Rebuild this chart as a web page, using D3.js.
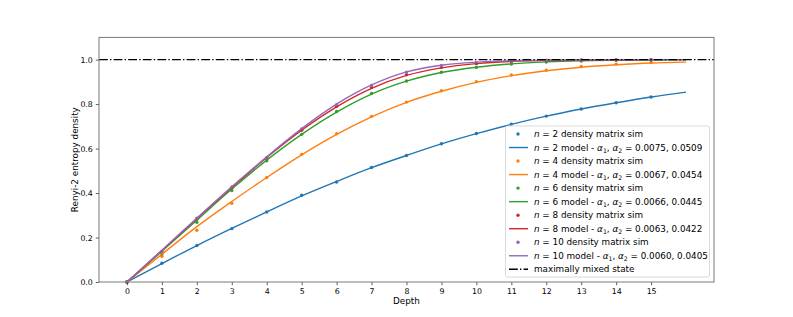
<!DOCTYPE html>
<html><head><meta charset="utf-8">
<script src="https://cdn.jsdelivr.net/npm/d3@7"></script>
<style>body{margin:0;background:#fff}svg{display:block}text{font-family:"DejaVu Sans",sans-serif;fill:#000}</style>
</head><body><svg id="c" width="793" height="317"></svg>
<script>
const depths = [0,1,2,3,4,5,6,7,8,9,10,11,12,13,14,15];
const modelDepths = [0,1,2,3,4,5,6,7,8,9,10,11,12,13,14,15,16];
const xTicks = [0,1,2,3,4,5,6,7,8,9,10,11,12,13,14,15];
const yTicks = [0.0,0.2,0.4,0.6,0.8,1.0];
const nValues = [2,4,6,8,10];
const alphas = [["0.0075","0.0509"],["0.0067","0.0454"],["0.0066","0.0445"],["0.0063","0.0422"],["0.0060","0.0405"]];
const colors = ["#1f77b4","#ff7f0e","#2ca02c","#d62728","#9467bd"];

const sim2  = [0,0.084,0.164,0.240,0.315,0.390,0.450,0.515,0.569,0.622,0.668,0.710,0.746,0.778,0.806,0.832];
const sim4  = [0,0.116,0.233,0.354,0.470,0.574,0.667,0.745,0.809,0.860,0.901,0.931,0.952,0.969,0.980,0.987];
const sim6  = [0,0.126,0.269,0.411,0.545,0.664,0.767,0.848,0.904,0.943,0.965,0.980,0.989,0.994,0.997,0.998];
const sim8  = [0,0.135,0.282,0.422,0.556,0.682,0.790,0.875,0.932,0.965,0.982,0.991,0.996,0.998,0.999,1.000];
const sim10 = [0,0.137,0.287,0.427,0.560,0.688,0.797,0.884,0.944,0.974,0.987,0.994,0.997,0.999,1.000,1.000];

const model2  = [0,0.083,0.164,0.241,0.315,0.387,0.452,0.514,0.569,0.621,0.667,0.709,0.746,0.778,0.806,0.832,0.854];
const model4  = [0,0.125,0.249,0.362,0.470,0.572,0.664,0.743,0.808,0.858,0.898,0.928,0.950,0.966,0.977,0.985,0.989];
const model6  = [0,0.138,0.278,0.418,0.548,0.664,0.764,0.845,0.903,0.942,0.966,0.981,0.990,0.995,0.997,0.998,0.999];
const model8  = [0,0.142,0.285,0.425,0.560,0.683,0.788,0.871,0.929,0.963,0.982,0.992,0.996,0.998,0.999,1.000,1.000];
const model10 = [0,0.143,0.287,0.428,0.563,0.690,0.800,0.886,0.945,0.975,0.989,0.995,0.998,0.999,1.000,1.000,1.000];

const sims = [sim2,sim4,sim6,sim8,sim10];
const models = [model2,model4,model6,model8,model10];

const svg = d3.select("#c");
const L=99, R=714, T=37.4, B=282;
const x = d3.scaleLinear().domain([-0.8,16.8]).range([L,R]);
const y = d3.scaleLinear().domain([0,1.1]).range([B,T]);
const fs = 8.8, tfs = 7.8;

sims.forEach((s,i)=>{
  svg.append("g").selectAll("circle").data(s).join("circle")
    .attr("cx",(d,j)=>x(depths[j])).attr("cy",d=>y(d)).attr("r",1.7).attr("fill",colors[i]);
});
const line = d3.line().x((d,j)=>x(modelDepths[j])).y(d=>y(d)).curve(d3.curveMonotoneX);
models.forEach((m,i)=>{
  svg.append("path").attr("d",line(m)).attr("fill","none").attr("stroke",colors[i]).attr("stroke-width",1.4);
});
svg.append("line").attr("x1",L).attr("x2",R).attr("y1",y(1)).attr("y2",y(1))
  .attr("stroke","#000").attr("stroke-width",1.4).attr("stroke-dasharray","8.8,2.2,1.4,2.2");

const xa = svg.append("g").attr("transform",`translate(0,${B})`)
  .call(d3.axisBottom(x).tickValues(xTicks).tickFormat(d3.format("d")).tickSizeInner(3.2).tickSizeOuter(0).tickPadding(3));
const ya = svg.append("g").attr("transform",`translate(${L},0)`)
  .call(d3.axisLeft(y).tickValues(yTicks).tickFormat(d3.format(".1f")).tickSizeInner(3.2).tickSizeOuter(0).tickPadding(3));
[xa,ya].forEach(a=>{
  a.select(".domain").remove();
  a.selectAll("line").attr("stroke","#333").attr("stroke-width",0.8);
  a.selectAll("text").attr("font-size",tfs).attr("font-family","DejaVu Sans").attr("fill","#000");
});
svg.append("rect").attr("x",L).attr("y",T).attr("width",R-L).attr("height",B-T)
  .attr("fill","none").attr("stroke","#7a7a7a").attr("stroke-width",1);

svg.append("text").attr("x",(L+R)/2).attr("y",304).attr("text-anchor","middle").attr("font-size",fs).text("Depth");
svg.append("text").attr("transform",`translate(75,${(T+B)/2}) rotate(-90)`).attr("dy","0.35em").attr("text-anchor","middle").attr("font-size",fs).text("Renyi-2 entropy density");

const lg = svg.append("g");
lg.append("rect").attr("x",505.5).attr("y",126).attr("width",204).attr("height",151).attr("rx",2)
  .attr("fill","#fff").attr("fill-opacity",0.8).attr("stroke","#d0d0d0").attr("stroke-width",0.8);
const rowY = k => 134 + k*13.53;
nValues.forEach((n,i)=>{
  const y1=rowY(2*i), y2=rowY(2*i+1);
  lg.append("circle").attr("cx",518).attr("cy",y1).attr("r",1.7).attr("fill",colors[i]);
  let t = lg.append("text").attr("x",534).attr("y",y1).attr("dy","0.35em").attr("font-size",fs);
  t.append("tspan").attr("font-style","italic").text("n");
  t.append("tspan").text(` = ${n} density matrix sim`);
  lg.append("line").attr("x1",509).attr("x2",528).attr("y1",y2).attr("y2",y2).attr("stroke",colors[i]).attr("stroke-width",1.4);
  t = lg.append("text").attr("x",534).attr("y",y2).attr("dy","0.35em").attr("font-size",fs);
  t.append("tspan").attr("font-style","italic").text("n");
  t.append("tspan").text(` = ${n} model - `);
  t.append("tspan").attr("font-style","italic").text("α");
  t.append("tspan").attr("font-size",fs*0.7).attr("dy","2").text("1");
  t.append("tspan").attr("dy","-2").text(", ");
  t.append("tspan").attr("font-style","italic").text("α");
  t.append("tspan").attr("font-size",fs*0.7).attr("dy","2").text("2");
  t.append("tspan").attr("dy","-2").text(` = ${alphas[i][0]}, ${alphas[i][1]}`);
});
{
  const y3=rowY(10);
  lg.append("line").attr("x1",509).attr("x2",528).attr("y1",y3).attr("y2",y3).attr("stroke","#000").attr("stroke-width",1.4).attr("stroke-dasharray","8.8,2.2,1.4,2.2");
  lg.append("text").attr("x",534).attr("y",y3).attr("dy","0.35em").attr("font-size",fs).text("maximally mixed state");
}
</script></body></html>
